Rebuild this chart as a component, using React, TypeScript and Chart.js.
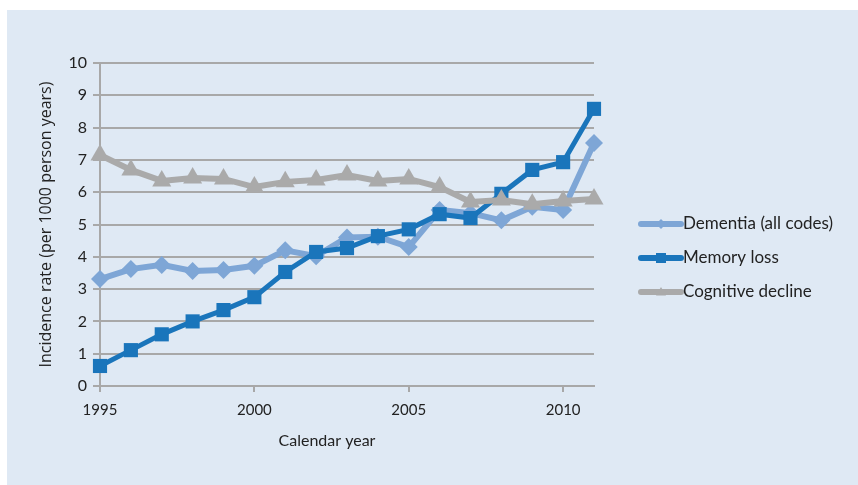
import React, { useEffect, useRef } from "react";
import { Chart, registerables } from "chart.js";

Chart.register(...registerables);

const years = [1995, 1996, 1997, 1998, 1999, 2000, 2001, 2002, 2003, 2004, 2005, 2006, 2007, 2008, 2009, 2010, 2011];
const dementia = [3.31, 3.62, 3.75, 3.56, 3.59, 3.72, 4.2, 4.02, 4.6, 4.62, 4.3, 5.45, 5.35, 5.13, 5.55, 5.45, 7.52];
const memoryLoss = [0.62, 1.11, 1.6, 2.0, 2.35, 2.75, 3.53, 4.15, 4.27, 4.64, 4.85, 5.32, 5.2, 5.95, 6.69, 6.93, 8.58];
const cognitiveDecline = [7.15, 6.69, 6.35, 6.44, 6.41, 6.16, 6.32, 6.38, 6.53, 6.35, 6.41, 6.16, 5.7, 5.76, 5.63, 5.73, 5.79];
const xTickValues = [1995, 2000, 2005, 2010];
const seriesNames = ["Dementia (all codes)", "Memory loss", "Cognitive decline"];
const seriesColors = ["#7ea6d6", "#1a75bb", "#aaaaaa"];
const xTitle = "Calendar year";
const yTitle = "Incidence rate (per 1000 person years)";

const GRID = "#a8a8a8";
const TEXT = "#222222";
const FONT = "Lato, 'Open Sans', sans-serif";

function drawMarker(ctx: CanvasRenderingContext2D, style: string, x: number, y: number, r: number) {
  ctx.beginPath();
  if (style === "rectRot") {
    ctx.moveTo(x, y - r);
    ctx.lineTo(x + r, y);
    ctx.lineTo(x, y + r);
    ctx.lineTo(x - r, y);
  } else if (style === "rect") {
    ctx.rect(x - r, y - r, 2 * r, 2 * r);
  } else {
    ctx.moveTo(x, y - r);
    ctx.lineTo(x + r, y + r * 0.7);
    ctx.lineTo(x - r, y + r * 0.7);
  }
  ctx.closePath();
  ctx.fill();
}

const legendPlugin = {
  id: "customLegend",
  afterDraw(chart: any) {
    const ctx = chart.ctx as CanvasRenderingContext2D;
    const area = chart.chartArea;
    const styles = ["rectRot", "rect", "triangle"];
    ctx.save();
    seriesNames.forEach((name, i) => {
      const y = 214 + i * 34;
      const x0 = area.right + 47;
      const x1 = area.right + 87;
      ctx.strokeStyle = seriesColors[i];
      ctx.fillStyle = seriesColors[i];
      ctx.lineWidth = 6;
      ctx.lineCap = "round";
      ctx.beginPath();
      ctx.moveTo(x0, y);
      ctx.lineTo(x1, y);
      ctx.stroke();
      drawMarker(ctx, styles[i], (x0 + x1) / 2, y, 5);
      ctx.fillStyle = TEXT;
      ctx.font = `17px ${FONT}`;
      ctx.textAlign = "left";
      ctx.textBaseline = "middle";
      ctx.fillText(name, x1 + 2, y);
    });
    // x axis title
    ctx.fillStyle = TEXT;
    ctx.font = `16px ${FONT}`;
    ctx.textAlign = "center";
    ctx.textBaseline = "middle";
    ctx.fillText(xTitle, 320, 431);
    ctx.restore();
  },
};

export default function App() {
  const ref = useRef<HTMLCanvasElement | null>(null);
  useEffect(() => {
    if (!ref.current) return;
    const mk = (i: number, data: number[], style: string, radius: number, width: number, order: number) => ({
      label: seriesNames[i],
      data: years.map((x, k) => ({ x, y: data[k] })),
      borderColor: seriesColors[i],
      backgroundColor: seriesColors[i],
      pointBackgroundColor: seriesColors[i],
      pointBorderColor: seriesColors[i],
      pointBorderWidth: 0,
      pointStyle: style,
      pointRadius: radius,
      borderWidth: width,
      tension: 0,
      clip: false,
      order,
    });
    const chart = new Chart(ref.current, {
      type: "line",
      data: {
        datasets: [
          mk(0, dementia, "rectRot", 9, 6, 2),
          mk(1, memoryLoss, "rect", 10, 5, 1),
          mk(2, cognitiveDecline, "triangle", 11, 6, 0),
        ],
      },
      options: {
        responsive: false,
        animation: false,
        events: [],
        layout: { padding: { left: 0, top: 53, right: 264, bottom: 0 } },
        plugins: { legend: { display: false }, tooltip: { enabled: false } },
        scales: {
          x: {
            type: "linear",
            min: 1995,
            max: 2011,
            afterBuildTicks: (scale: any) => {
              scale.ticks = xTickValues.map((v) => ({ value: v }));
            },
            afterFit: (scale: any) => {
              scale.height = 99;
            },
            grid: { drawOnChartArea: false, color: GRID, lineWidth: 2, tickLength: 6 },
            border: { display: true, color: GRID, width: 2 },
            ticks: {
              color: TEXT,
              font: { family: FONT, size: 15 },
              padding: 9,
              maxRotation: 0,
              autoSkip: false,
              callback: (v: any) => String(v),
            },
          },
          y: {
            min: 0,
            max: 10,
            afterFit: (scale: any) => {
              scale.width = 93;
            },
            grid: { color: GRID, lineWidth: 2, tickLength: 7 },
            border: { display: true, color: GRID, width: 2 },
            ticks: {
              stepSize: 1,
              color: TEXT,
              font: { family: FONT, size: 16 },
              padding: 6,
            },
            title: {
              display: true,
              text: yTitle,
              color: TEXT,
              font: { family: "'Open Sans', sans-serif", size: 16 },
              padding: { top: 30, bottom: 0 },
            },
          },
        },
      },
      plugins: [legendPlugin],
    } as any);
    return () => chart.destroy();
  }, []);
  return (
    <div style={{ position: "absolute", left: 0, top: 0, width: 858, height: 485, background: "#ffffff" }}>
      <div style={{ position: "absolute", left: 7, top: 10, width: 851, height: 475, background: "#dfe9f4" }}>
        <canvas ref={ref} width={851} height={475} style={{ display: "block" }} />
      </div>
    </div>
  );
}
